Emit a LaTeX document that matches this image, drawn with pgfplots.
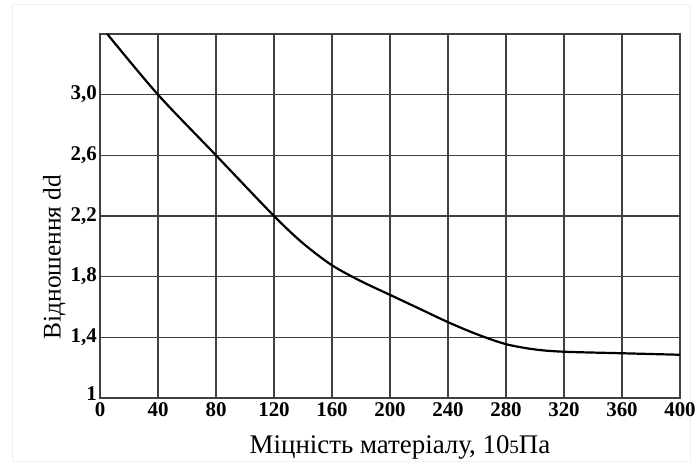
\documentclass[border=0pt]{standalone}
\usepackage{pgfplots}
\pgfplotsset{compat=1.18}
\usepackage{fontspec}
\setmainfont{Liberation Serif}
\begin{document}
\begin{tikzpicture}[x=1bp,y=1bp]
\useasboundingbox (0,0) rectangle (696,466);
\draw[gray!12, line width=0.8bp] (12,5) rectangle (690,462);
\begin{axis}[
  at={(100bp,68bp)}, anchor=south west,
  scale only axis, width=580bp, height=364bp,
  xmin=0, xmax=400, ymin=1, ymax=3.4,
  xtick={0,40,...,400},
  ytick={1,1.4,1.8,2.2,2.6,3.0,3.4},
  yticklabels={\raisebox{9bp}{1},{1,4},{1,8},{2,2},{2,6},{3,0},},
  /pgf/number format/assume math mode=true,
  grid=major,
  major grid style={black!75, line width=1.3bp},
  axis line style={black!75, line width=1.3bp},
  major tick length=0pt,
  tick label style={font=\fontsize{21}{22}\selectfont\bfseries, inner sep=1bp},
  xticklabel style={yshift=-3bp},
  yticklabel style={xshift=-2bp},
  xlabel={Міцність матеріалу, 10{\fontsize{19}{19}\selectfont 5}Па},
  ylabel={Відношення dd},
  xlabel style={font=\fontsize{27}{28}\selectfont, at={(0.5,0)}, anchor=north, xshift=10bp, yshift=-34bp},
  ylabel style={font=\fontsize{25.5}{27}\selectfont, at={(0,0.387)}, anchor=south, yshift=31bp},
]
\addplot[black, line width=2.2bp, smooth, tension=0.5] coordinates {
(5,3.4) (40,3.0) (80,2.6) (120,2.2) (140,2.02) (160,1.875) (180,1.77)
(200,1.68) (220,1.59) (240,1.50) (260,1.42) (280,1.355) (300,1.32)
(320,1.305) (360,1.295) (400,1.285)
};
\end{axis}
\end{tikzpicture}
\end{document}
